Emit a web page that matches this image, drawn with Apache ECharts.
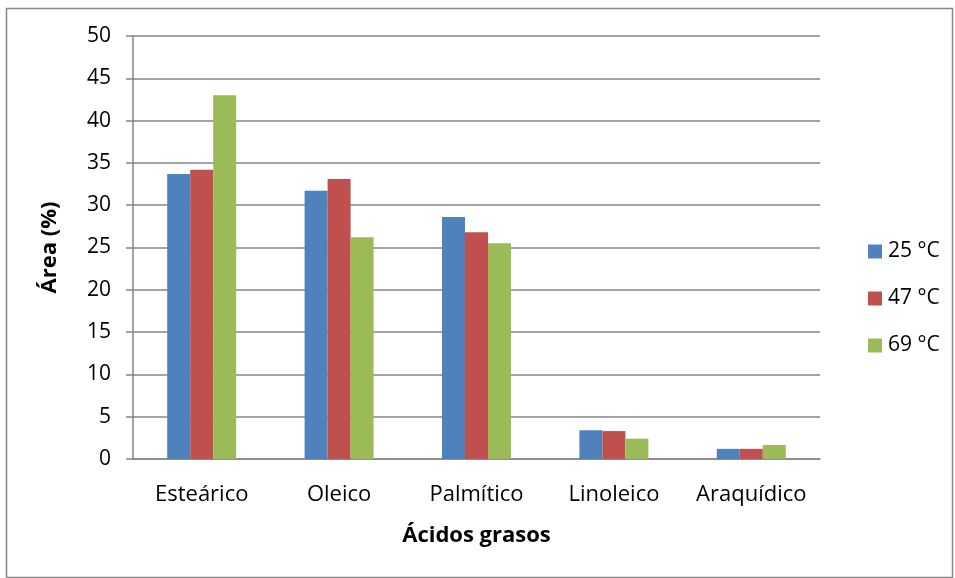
<!DOCTYPE html>
<html>
<head>
<meta charset="utf-8">
<script src="https://cdn.jsdelivr.net/npm/echarts@6/dist/echarts.min.js"></script>
<style>
html,body{margin:0;padding:0;background:#fff;}
#c{width:955px;height:578px;}
</style>
</head>
<body>
<div id="c"></div>
<script>
const categories = ['Esteárico', 'Oleico', 'Palmítico', 'Linoleico', 'Araquídico'];
const seriesNames = ['25 °C', '47 °C', '69 °C'];
const s25 = [33.7, 31.7, 28.6, 3.4, 1.2];
const s47 = [34.2, 33.1, 26.8, 3.3, 1.2];
const s69 = [43.0, 26.2, 25.5, 2.4, 1.65];
const colors = ['#4F81BD', '#C0504D', '#9BBB59'];
const FONT = 'Open Sans';

const chart = echarts.init(document.getElementById('c'));
const data = [s25, s47, s69];
chart.setOption({
  animation: false,
  textStyle: {fontFamily: FONT},
  graphic: [{
    type: 'rect', left: 4, top: 6,
    shape: {width: 946, height: 569},
    style: {fill: 'none', stroke: '#878787', lineWidth: 1.5},
    z: -1
  }],
  grid: {left: 133, top: 36, width: 687, height: 423, containLabel: false},
  legend: {
    orient: 'vertical', left: 863, top: 236,
    itemWidth: 14, itemHeight: 14, itemGap: 26,
    icon: 'rect',
    textStyle: {fontSize: 21, color: '#000', fontFamily: FONT, padding: [0,0,0,1]},
    data: seriesNames
  },
  xAxis: {
    type: 'category', data: categories,
    axisTick: {show: false},
    axisLine: {lineStyle: {color: '#868686', width: 1.5}},
    axisLabel: {fontSize: 22, color: '#000', margin: 25, interval: 0, hideOverlap: false},
    name: 'Ácidos grasos', nameLocation: 'middle', nameGap: 66,
    nameTextStyle: {fontSize: 22, fontWeight: 'bold', color: '#000'}
  },
  yAxis: {
    type: 'value', min: 0, max: 50, interval: 5,
    axisLine: {show: true, lineStyle: {color: '#868686', width: 1.5}},
    axisTick: {show: true, inside: false, length: 7, lineStyle: {color: '#868686', width: 1.5}},
    splitLine: {lineStyle: {color: '#868686', width: 1.5}},
    axisLabel: {fontSize: 21, color: '#000', margin: 22},
    name: 'Área (%)', nameLocation: 'middle', nameGap: 72, nameRotate: 90,
    nameTextStyle: {fontSize: 22, fontWeight: 'bold', color: '#000'}
  },
  series: seriesNames.map((n, i) => ({
    name: n, type: 'bar', data: data[i], barWidth: 23, barGap: '0%',
    itemStyle: {color: colors[i]}
  }))
});
</script>
</body>
</html>
